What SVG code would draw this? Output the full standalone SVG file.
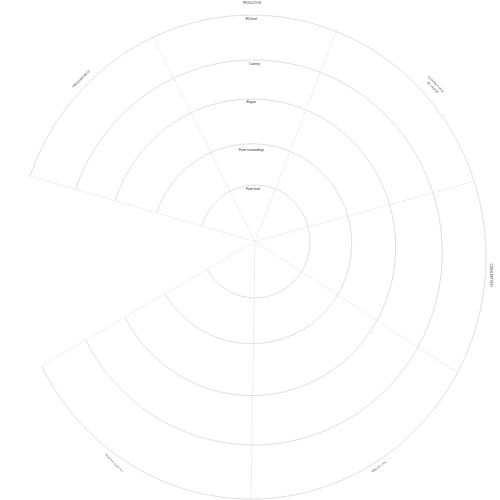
<svg xmlns="http://www.w3.org/2000/svg" width="500" height="500" viewBox="0 0 500 500">
  <style>
    .ring { fill: none; stroke: #d6d6de; stroke-width: 0.8; }
    .div { fill: none; stroke: #e4e4ea; stroke-width: 0.6; }
    .lvl { font-family: "Liberation Sans", Arial, sans-serif; font-size: 3px; fill: #222; text-anchor: middle; }
    .sec { font-family: "Liberation Sans", Arial, sans-serif; fill: #333; text-anchor: middle; }
  </style>
  <rect width="500" height="500" fill="#ffffff"/>

  <g id="connectors">
    <line class="div" x1="255" y1="241.5" x2="153.4" y2="37"/>
    <line class="div" x1="255" y1="241.5" x2="336.3" y2="31.5"/>
    <line class="div" x1="255" y1="241.5" x2="474.2" y2="181.3"/>
    <line class="div" x1="255" y1="241.5" x2="457.5" y2="372.6"/>
    <line class="div" x1="255" y1="241.5" x2="251" y2="499"/>
    <line class="div" x1="255" y1="241.5" x2="41.48" y2="365.83"/>
    <line class="div" x1="255" y1="241.5" x2="30" y2="176"/>
  </g>

  <g id="ring-farm-level">
    <path class="ring" d="M 202.1 226.1 A 55 56.5 0 1 1 207.2 269.4"/>
    <text class="lvl" x="253" y="189.5">Farm level</text>
  </g>
  <g id="ring-farm-surroundings">
    <path class="ring" d="M 156.6 212.85 A 100 100 0 1 1 165.16 293.81"/>
    <text class="lvl" x="251.5" y="150.5">Farm surroundings</text>
  </g>
  <g id="ring-region">
    <path class="ring" d="M 115.16 200.79 A 143.9 148.3 0 1 1 124.91 317.25"/>
    <text class="lvl" x="251.3" y="103">Region</text>
  </g>
  <g id="ring-country">
    <path class="ring" d="M 75.57 189.27 A 188.6 192.5 0 1 1 85.74 340.06"/>
    <text class="lvl" x="254.5" y="64.5">Country</text>
  </g>
  <g id="ring-eu-level">
    <path class="ring" d="M 30 176 A 234.8 242 0 1 1 41.48 365.83"/>
    <text class="lvl" x="251.3" y="20.2">EU level</text>
  </g>

  <g id="sector-production">
    <text class="sec" x="252" y="4.2" font-size="2.7">PRODUCTION</text>
  </g>
  <g id="sector-distribution-exchange" transform="translate(434.3,85.75) rotate(45)">
    <text class="sec" x="0" y="-1.2" font-size="2.65">DISTRIBUTION &amp;</text>
    <text class="sec" x="0" y="3.1" font-size="2.65">EXCHANGE</text>
  </g>
  <g id="sector-consumption" transform="translate(491,275) rotate(90)">
    <text class="sec" x="0" y="1.1" font-size="3.1">CONSUMPTION</text>
  </g>
  <g id="sector-end-of-life" transform="translate(378.8,466.7) rotate(-35)">
    <text class="sec" x="0" y="1" font-size="2.8">END OF LIFE</text>
  </g>
  <g id="sector-reverse-logistics" transform="translate(114.2,463) rotate(45)">
    <text class="sec" x="0" y="0.9" font-size="2.4" style="fill:#444">REVERSE LOGISTICS</text>
  </g>
  <g id="sector-procurement" transform="translate(81.3,78.7) rotate(-45)">
    <text class="sec" x="0" y="1.1" font-size="3.1">PROCUREMENT</text>
  </g>
</svg>
